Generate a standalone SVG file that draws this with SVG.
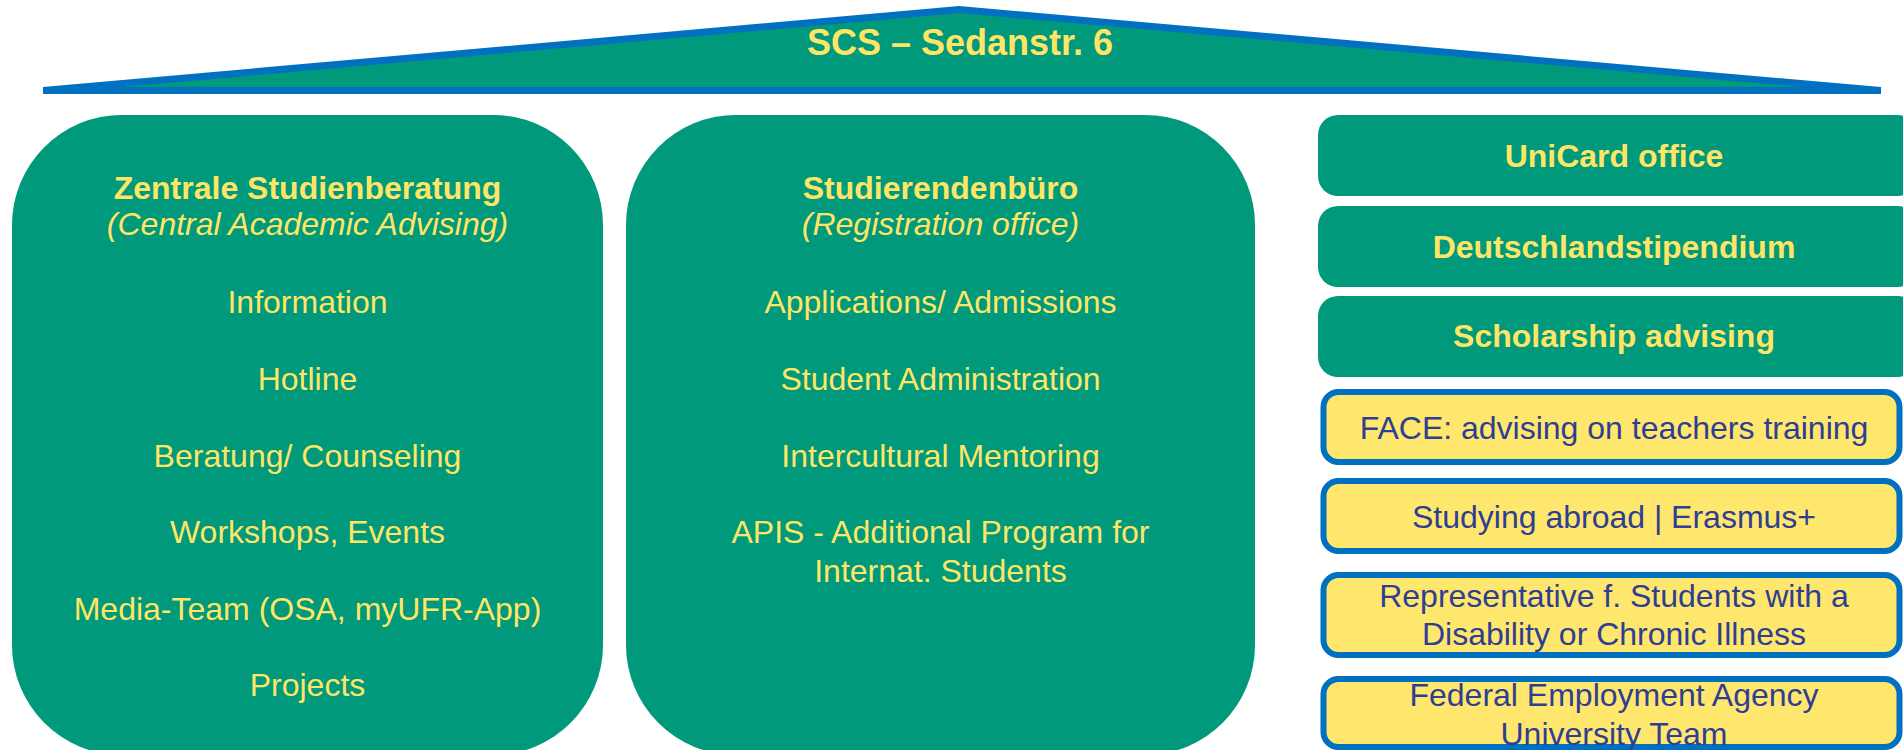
<svg xmlns="http://www.w3.org/2000/svg" width="1903" height="750" viewBox="0 0 1903 750">
<style>
.t{font-family:"Liberation Sans",Arial,sans-serif;font-size:32px;text-anchor:middle;fill:#FFE566}
.b{font-weight:bold}
.i{font-style:italic}
.d{fill:#2E3F93}
.g{fill:#00997B}
.y{fill:#FFE66D;stroke:#0070C0;stroke-width:6}
</style>
<rect width="1903" height="750" fill="#FFFFFF"/>
<g id="roof">
<polygon points="43,94 43,87 959,6 1881,87 1881,94" fill="#0070C0"/>
<polygon points="122,87 959,13 1802,87" fill="#00997B"/>
<text class="t b" x="960" y="55" style="font-size:36px">SCS – Sedanstr. 6</text>
</g>
<g id="zsb">
<rect class="g" x="12" y="115" width="591" height="640" rx="110"/>
<text class="t b" x="307.5" y="199">Zentrale Studienberatung</text>
<text class="t i" x="307.5" y="235">(Central Academic Advising)</text>
<text class="t" x="307.5" y="313">Information</text>
<text class="t" x="307.5" y="390">Hotline</text>
<text class="t" x="307.5" y="467">Beratung/ Counseling</text>
<text class="t" x="307.5" y="543">Workshops, Events</text>
<text class="t" x="307.5" y="620">Media-Team (OSA, myUFR-App)</text>
<text class="t" x="307.5" y="696">Projects</text>
</g>
<g id="stb">
<rect class="g" x="626" y="115" width="629" height="640" rx="110"/>
<text class="t b" x="940.5" y="199">Studierendenbüro</text>
<text class="t i" x="940.5" y="235">(Registration office)</text>
<text class="t" x="940.5" y="313">Applications/ Admissions</text>
<text class="t" x="940.5" y="390">Student Administration</text>
<text class="t" x="940.5" y="467">Intercultural Mentoring</text>
<text class="t" x="940.5" y="543">APIS - Additional Program for</text>
<text class="t" x="940.5" y="582">Internat. Students</text>
</g>
<g id="unicard">
<rect class="g" x="1318" y="115" width="600" height="81" rx="20"/>
<text class="t b" x="1614" y="167">UniCard office</text>
</g>
<g id="dstip">
<rect class="g" x="1318" y="206" width="600" height="81" rx="20"/>
<text class="t b" x="1614" y="258">Deutschlandstipendium</text>
</g>
<g id="schol">
<rect class="g" x="1318" y="296" width="600" height="81" rx="20"/>
<text class="t b" x="1614" y="347">Scholarship advising</text>
</g>
<g id="face">
<rect class="y" x="1323.5" y="392" width="576" height="70" rx="15"/>
<text class="t d" x="1614" y="439">FACE: advising on teachers training</text>
</g>
<g id="abroad">
<rect class="y" x="1323.5" y="481" width="576" height="70" rx="15"/>
<text class="t d" x="1614" y="528">Studying abroad | Erasmus+</text>
</g>
<g id="disab">
<rect class="y" x="1323.5" y="575" width="576" height="80" rx="15"/>
<text class="t d" x="1614" y="607">Representative f. Students with a</text>
<text class="t d" x="1614" y="645">Disability or Chronic Illness</text>
</g>
<g id="agency">
<rect class="y" x="1323.5" y="679" width="576" height="68" rx="15"/>
<text class="t d" x="1614" y="706">Federal Employment Agency</text>
<text class="t d" x="1614" y="745">University Team</text>
</g>
<g id="connectors"></g>
</svg>
